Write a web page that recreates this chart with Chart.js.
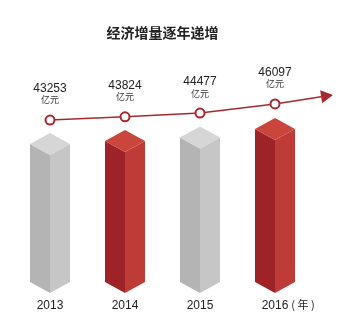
<!DOCTYPE html>
<html lang="zh">
<head>
<meta charset="utf-8">
<title>经济增量逐年递增</title>
<script src="https://cdn.jsdelivr.net/npm/chart.js@4.4.1/dist/chart.umd.min.js"></script>
<style>
  html, body { margin: 0; padding: 0; background: #fff; }
  #wrap { width: 354px; height: 329px; position: relative; }
</style>
</head>
<body>
<div id="wrap"><canvas id="grafico"></canvas></div>
<script>
// data
const years = ["2013", "2014", "2015", "2016"];
const values = [43253, 43824, 44477, 46097];
const valueUnit = "亿元";
const yearUnit = "( 年 )";

const LINE_RED = "#a7282f";
const TEXT = "#222";
const FONT = "'Liberation Sans', Arial, 'Noto Sans CJK SC', sans-serif";

// face colours of the prism columns, alternating grey / red
const faces = [
  { top: "#d6d6d6", left: "#b4b4b4", right: "#c6c6c6" },
  { top: "#ca463c", left: "#9d2329", right: "#be3b38" }
];

function poly(ctx, color, pts) {
  ctx.beginPath();
  ctx.moveTo(pts[0][0], pts[0][1]);
  for (let i = 1; i < pts.length; i++) ctx.lineTo(pts[i][0], pts[i][1]);
  ctx.closePath();
  ctx.fillStyle = color;
  ctx.fill();
}

// draws each bar as a square column seen from a corner
const prismBars = {
  id: "prismBars",
  beforeDatasetsDraw(chart) {
    const ctx = chart.ctx;
    const meta = chart.getDatasetMeta(1);
    const bottom = chart.chartArea.bottom;
    ctx.save();
    meta.data.forEach((bar, i) => {
      const c = faces[i % 2];
      const hw = bar.width / 2, d = 11;
      const x = bar.x, y = bar.y, b = Math.min(bar.base, bottom);
      poly(ctx, c.left, [[x - hw, y + d], [x, y + 2 * d], [x, b], [x - hw, b - d]]);
      poly(ctx, c.right, [[x, y + 2 * d], [x + hw, y + d], [x + hw, b - d], [x, b]]);
      poly(ctx, c.top, [[x, y], [x + hw, y + d], [x, y + 2 * d], [x - hw, y + d]]);
    });
    ctx.restore();
  }
};

// trend arrow going on past the last point
const trendArrow = {
  id: "trendArrow",
  beforeDatasetsDraw(chart) {
    const pts = chart.getDatasetMeta(0).data;
    const p = pts[pts.length - 1];
    const tipX = p.x + 58, tipY = p.y - 9;
    const ang = Math.atan2(tipY - p.y, tipX - p.x);
    const len = 12, half = 6.5;
    const bx = tipX - len * Math.cos(ang), by = tipY - len * Math.sin(ang);
    const ctx = chart.ctx;
    ctx.save();
    ctx.strokeStyle = LINE_RED;
    ctx.lineWidth = 1.5;
    ctx.beginPath();
    ctx.moveTo(p.x, p.y);
    ctx.lineTo(bx, by);
    ctx.stroke();
    poly(ctx, LINE_RED, [
      [tipX, tipY],
      [bx + half * Math.sin(ang), by - half * Math.cos(ang)],
      [bx - half * Math.sin(ang), by + half * Math.cos(ang)]
    ]);
    ctx.restore();
  }
};

// value + unit above every marker, and the year unit after the last tick
const labels = {
  id: "labels",
  afterDatasetsDraw(chart) {
    const ctx = chart.ctx;
    const pts = chart.getDatasetMeta(0).data;
    ctx.save();
    ctx.textAlign = "center";
    ctx.textBaseline = "middle";
    pts.forEach((p, i) => {
      ctx.fillStyle = TEXT;
      ctx.font = "12px " + FONT;
      ctx.fillText(String(values[i]), p.x, p.y - 31);
      ctx.fillStyle = "#333";
      ctx.font = "9px 'Noto Sans CJK SC', sans-serif";
      ctx.fillText(valueUnit, p.x, p.y - 20);
    });

    const xs = chart.scales.x;
    const last = years.length - 1;
    const x = xs.getPixelForTick(last);
    ctx.font = "12px " + FONT;
    const w = ctx.measureText(years[last]).width;
    ctx.textAlign = "left";
    ctx.fillStyle = TEXT;
    ctx.font = "11px 'Noto Sans CJK SC', sans-serif";
    ctx.fillText(yearUnit, x + w / 2 + 3, xs.top + 5 + 7.2);
    ctx.restore();
  }
};

new Chart(document.getElementById("grafico"), {
  data: {
    labels: years,
    datasets: [
      {
        type: "line",
        data: values,
        yAxisID: "y2",
        borderColor: LINE_RED,
        borderWidth: 1.5,
        pointRadius: 4.5,
        pointBorderWidth: 2,
        pointBorderColor: LINE_RED,
        pointBackgroundColor: "#fff",
        tension: 0
      },
      {
        type: "bar",
        data: values,
        yAxisID: "y",
        backgroundColor: "transparent",
        barThickness: 40
      }
    ]
  },
  options: {
    responsive: true,
    maintainAspectRatio: false,
    animation: false,
    layout: { padding: { left: 12.5, right: 41.5, top: 0, bottom: 11.6 } },
    plugins: {
      legend: { display: false },
      tooltip: { enabled: false },
      title: {
        display: true,
        text: "经济增量逐年递增",
        color: TEXT,
        font: { size: 14, weight: "bold", family: "'Noto Sans CJK SC', sans-serif" },
        padding: { top: 24, bottom: 39 }
      }
    },
    scales: {
      x: {
        offset: true,
        grid: { display: false, drawTicks: false },
        border: { display: false },
        ticks: { color: TEXT, font: { size: 12, family: FONT }, padding: 5 }
      },
      y: { display: false, min: 13000, max: 53335 },
      y2: { display: false, min: 12681, max: 50363 }
    }
  },
  plugins: [prismBars, trendArrow, labels]
});
</script>
</body>
</html>
